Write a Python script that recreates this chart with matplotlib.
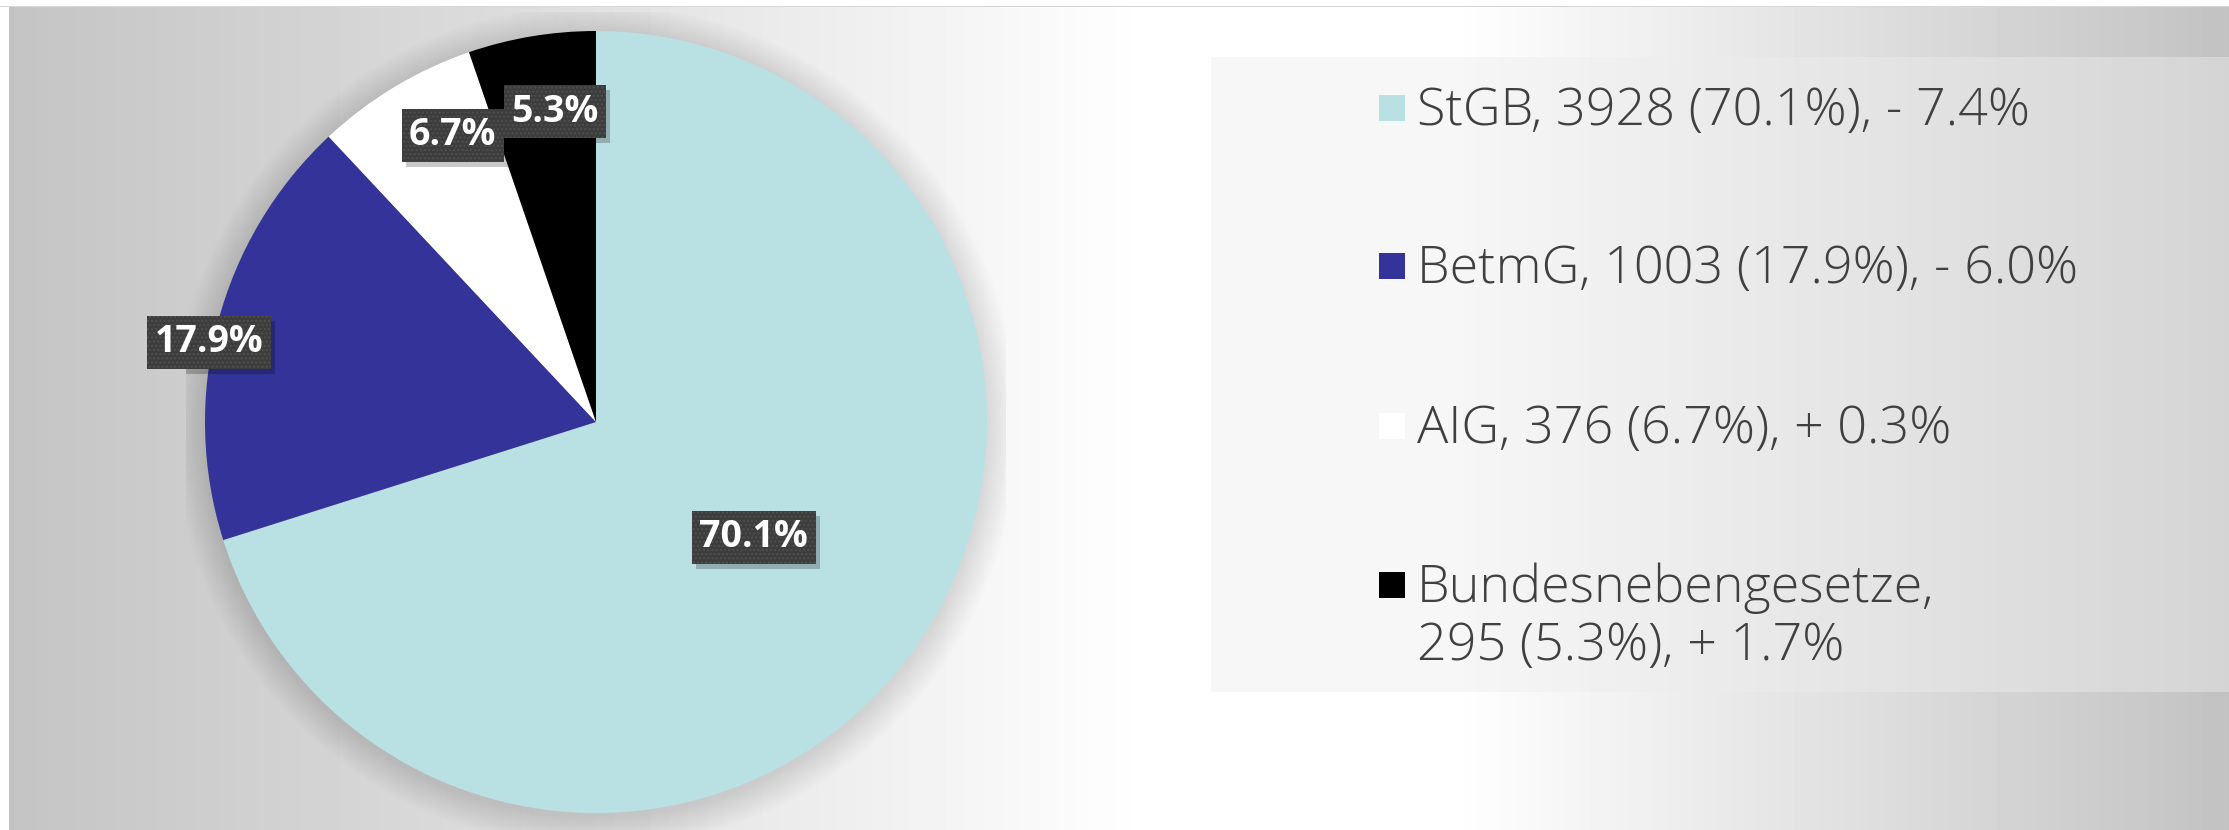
import numpy as np
import matplotlib
matplotlib.use("Agg")
import matplotlib.pyplot as plt
from matplotlib.patches import Rectangle, Circle

# data
categories = ["StGB", "BetmG", "AIG", "Bundesnebengesetze"]
counts = [3928, 1003, 376, 295]
changes = ["- 7.4%", "- 6.0%", "+ 0.3%", "+ 1.7%"]
colors = ["#b9e0e3", "#333399", "#ffffff", "#000000"]

# label placement (radius in pie units, angular nudge in deg)
label_r = [0.50, 1.01, 0.82, 0.80]
label_nudge = [0, 3, -4.5, -2]

W, H = 2229, 830
fig = plt.figure(figsize=(W / 100, H / 100), dpi=100)

# background gradient
bg = fig.add_axes([0, 0, 1, 1])
xs = np.arange(W)
vals = np.interp(xs, [9, 500, 1150, 1450, W], [196, 220, 255, 255, 194])
img = np.tile(vals, (H, 1))
img[:8, :] = 255
img[:, :9] = 255
img[7, :] = 215
bg.imshow(img, cmap="gray", vmin=0, vmax=255, extent=[0, W, H, 0],
          aspect="auto", interpolation="nearest")
bg.set_xlim(0, W)
bg.set_ylim(H, 0)
bg.axis("off")

# legend panel
bg.add_patch(Rectangle((1211, 57), W - 1211, 692 - 57, fc=(237 / 255,) * 3,
                       alpha=0.44, ec="none"))

# pie axes, centre (596, 422) px, radius 391 px
R = 391.0
half = 410.0
cx, cy = 596, H - 422
ax = fig.add_axes([(cx - half) / W, (cy - half) / H, 2 * half / W, 2 * half / H])

# soft shadow
n = 30
for i in range(n):
    ax.add_patch(Circle((0.0, -0.01), 1.0 + 0.08 * (i + 1) / n, fc="black",
                        ec="none", alpha=0.0045, zorder=0))

wedges, _, autotexts = ax.pie(counts, colors=colors, startangle=90,
                              counterclock=False, autopct="%.1f%%",
                              radius=1.0, wedgeprops=dict(linewidth=0))
ax.set_xlim(-half / R, half / R)
ax.set_ylim(-half / R, half / R)
ax.axis("off")

for w, t, r, dn in zip(wedges, autotexts, label_r, label_nudge):
    ang = np.deg2rad((w.theta1 + w.theta2) / 2 + dn)
    t.set_position((r * np.cos(ang), r * np.sin(ang)))
    t.set_color("white")
    t.set(fontsize=27, fontweight="bold", family=["Open Sans", "DejaVu Sans"],
          ha="center", va="center", zorder=6)
    t.set_bbox(dict(boxstyle="square,pad=0.2", fc="#3d3d3d", ec="#4f4f4f",
                    lw=0, hatch="...."))

# drop shadows behind the label boxes
fig.canvas.draw()
inv = ax.transData.inverted()
for t in autotexts:
    bb = t.get_bbox_patch().get_window_extent()
    (x0, y0), (x1, y1) = inv.transform([(bb.x0 + 4, bb.y0 - 5), (bb.x1 + 4, bb.y1 - 5)])
    ax.add_patch(Rectangle((x0, y0), x1 - x0, y1 - y0, fc="black", ec="none",
                           alpha=0.22, zorder=5))

# legend (manual)
total = sum(counts)
row_base = [125, 283, 443, 602]
txt = dict(fontsize=37.5, color="#404040", va="baseline", ha="left",
           family=["Open Sans", "DejaVu Sans"], fontweight="light")
for c, v, d, col, yb in zip(categories, counts, changes, colors, row_base):
    pct = 100 * v / total
    bg.add_patch(Rectangle((1379, yb - 30), 26, 26, fc=col, ec="none"))
    if len(c) > 12:
        bg.text(1417, yb, f"{c},", **txt)
        bg.text(1417, yb + 58, f"{v} ({pct:.1f}%), {d}", **txt)
    else:
        bg.text(1417, yb, f"{c}, {v} ({pct:.1f}%), {d}", **txt)

fig.savefig("out.png", dpi=100)
